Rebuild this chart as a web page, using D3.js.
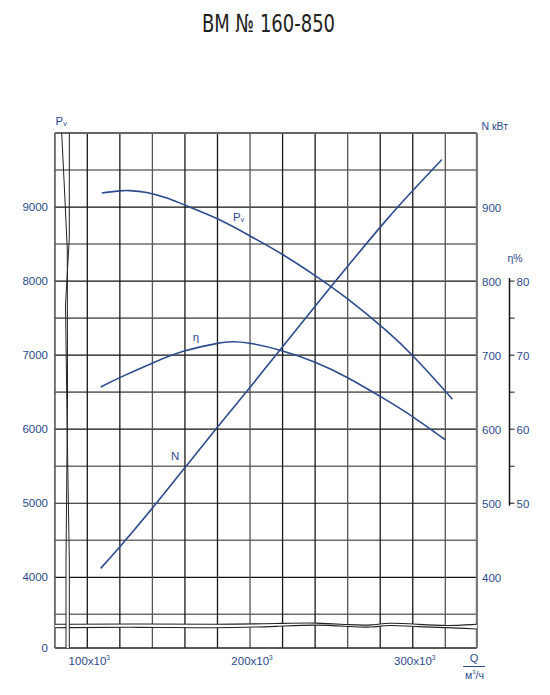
<!DOCTYPE html>
<html>
<head>
<meta charset="utf-8">
<script src="https://cdn.jsdelivr.net/npm/d3@7/dist/d3.min.js"></script>
<style>
  html, body { margin: 0; padding: 0; background: #fff; }
  svg { display: block; }
  text { font-family: "Liberation Sans", Arial, sans-serif; }
</style>
</head>
<body>
<svg id="chart" width="550" height="695"></svg>
<script>
// ---------- data ----------
const title = "ВМ № 160-850";

// Pv (pressure) curve
const pvQ   = [108.9, 120.1, 126, 136.5, 148.8, 159.6, 179.3, 199.8, 219.5, 240, 260, 283.6, 301.2, 319.8, 324.3];
const pvVal = [9190, 9219, 9222, 9196, 9122, 9030, 8848, 8613, 8366, 8075, 7759, 7334, 6964, 6518, 6405];

// efficiency curve, %
const etaQ   = [108.2, 120.3, 140.2, 159.6, 179.3, 189, 199.8, 219.5, 240, 260, 283.6, 301.2, 319.8];
const etaVal = [65.7, 67.0, 68.95, 70.55, 71.55, 71.8, 71.6, 70.6, 69.05, 66.95, 63.95, 61.5, 58.6];

// power curve, kW
const nQ   = [108.2, 120.3, 140.2, 159.6, 179.3, 199.8, 219.5, 240, 260, 283.6, 301.2, 317.8];
const nVal = [412, 442, 494, 547, 601, 656, 710, 766, 820, 882, 925, 964];

// ticks
const pvTicks   = [0, 4000, 5000, 6000, 7000, 8000, 9000];
const nTicks    = [400, 500, 600, 700, 800, 900];
const etaTicks  = [50, 60, 70, 80];
const etaMinor  = [55, 65, 75];
const xTickVals = [100, 200, 300];
const xTickLabels = ["100x10", "200x10", "300x10"];
const gridQ  = d3.range(100, 321, 20);
const gridPv = d3.range(3500, 9501, 500);

// ---------- scales ----------
const navy = "#2d4b8c";
const x = d3.scaleLinear().domain([100, 320]).range([87.3, 445.3]);
const qMin = 80.1, qMax = 339.4;
const y = d3.scaleLinear().domain([0, 3500, 10000]).range([648, 614.3, 133]);
const yN = d3.scaleLinear().domain([350, 1000]).range([y(3500), y(10000)]);
const yEta = d3.scaleLinear().domain([35, 100]).range([y(3500), y(10000)]);

const svg = d3.select("#chart");
const L = x(qMin), R = x(qMax), T = y(10000), B = y(0);

// ---------- grid ----------
const g = svg.append("g");
g.selectAll("line.hg").data(gridPv).join("line")
  .attr("x1", L).attr("x2", R)
  .attr("y1", d => y(d)).attr("y2", d => y(d))
  .attr("stroke", d => d % 1000 === 0 ? "#111" : "#6e6e6e")
  .attr("stroke-width", d => d % 1000 === 0 ? 1.2 : 1.6);
g.selectAll("line.vg").data(gridQ).join("line")
  .attr("x1", d => x(d)).attr("x2", d => x(d))
  .attr("y1", T).attr("y2", B)
  .attr("stroke", (d, i) => i % 3 === 2 ? "#555" : "#1a1a1a")
  .attr("stroke-width", 1.3);

// frame
g.append("line").attr("x1", L).attr("x2", R).attr("y1", T).attr("y2", T).attr("stroke", "#666").attr("stroke-width", 2);
g.append("line").attr("x1", L).attr("x2", R).attr("y1", B).attr("y2", B).attr("stroke", "#222").attr("stroke-width", 1.4);
g.append("line").attr("x1", L).attr("x2", L).attr("y1", T).attr("y2", B).attr("stroke", "#555").attr("stroke-width", 1.6);
g.append("line").attr("x1", R).attr("x2", R).attr("y1", T).attr("y2", B).attr("stroke", "#777").attr("stroke-width", 2.2);

// ---------- axis break marks (decoration) ----------
const brk = d3.line().curve(d3.curveBasis);
const hBreakUpper = [[L,624.3],[140,623.8],[217,624.5],[280,623.5],[317,622.5],[350,625],[373,625.5],[387,622.3],[420,624.5],[447,626],[R,624.3]];
const hBreakLower = [[L,627.7],[140,627],[217,628.3],[280,626.3],[317,624.5],[350,626.7],[373,627.7],[387,624.5],[420,627],[447,627.5],[R,629]];
g.append("path").attr("d", d3.area().curve(d3.curveBasis).x(d=>d[0]).y0(d=>d[1]).y1((d,i)=>hBreakLower[i][1])(hBreakUpper))
  .attr("fill", "#fff");
[hBreakUpper, hBreakLower].forEach(pts => {
  g.append("path").attr("d", brk(pts)).attr("fill", "none").attr("stroke", "#222").attr("stroke-width", 1.1);
});
const vBreakA = [[61.7,T],[64.5,190],[67.3,250],[67.5,400],[66,560],[66,B]];
const vBreakB = [[69.3,T],[69.3,238],[65.5,305],[67.5,450],[69.3,560],[69.3,B]];
g.append("rect").attr("x", 66).attr("y", 560).attr("width", 3.3).attr("height", B - 560).attr("fill", "#fff");
[vBreakA, vBreakB].forEach(pts => {
  g.append("path").attr("d", d3.line()(pts)).attr("fill", "none").attr("stroke", "#222").attr("stroke-width", 1);
});

// ---------- curves ----------
const line = d3.line().curve(d3.curveNatural);
const cg = svg.append("g").attr("fill", "none").attr("stroke", navy).attr("stroke-width", 1.6);
cg.append("path").attr("d", line(pvQ.map((q, i) => [x(q), y(pvVal[i])])));
cg.append("path").attr("d", line(etaQ.map((q, i) => [x(q), yEta(etaVal[i])])));
cg.append("path").attr("d", line(nQ.map((q, i) => [x(q), yN(nVal[i])])));

// curve labels
const lab = svg.append("g").attr("fill", navy).style("font-size", "11.5px");
const pvLab = lab.append("text").attr("x", x(189.5)).attr("y", y(8812));
pvLab.append("tspan").text("P");
pvLab.append("tspan").text("v").style("font-size", "7.5px").attr("dy", 1);
lab.append("text").attr("x", x(164.8)).attr("y", yEta(71.9)).text("η");
lab.append("text").attr("x", x(151.5)).attr("y", yN(558)).text("N");

// ---------- axes text ----------
const ax = svg.append("g").attr("fill", navy).style("font-size", "11.5px");
// left
ax.selectAll("text.pl").data(pvTicks).join("text")
  .attr("x", 48).attr("y", d => y(d)).attr("dy", "0.36em")
  .attr("text-anchor", "end").text(d => d);
const pvTitle = ax.append("text").attr("x", 55.5).attr("y", 125);
pvTitle.append("tspan").text("P");
pvTitle.append("tspan").text("v").style("font-size", "7.5px").attr("dy", 1);

// right N
ax.selectAll("text.nl").data(nTicks).join("text")
  .attr("x", 482).attr("y", d => yN(d)).attr("dy", "0.45em").text(d => d);
ax.append("text").attr("x", 481.5).attr("y", 129.5).style("font-size", "10.5px").text("N кВт");

// eta axis
const etaX = 509.5;
svg.append("line").attr("x1", etaX).attr("x2", etaX)
  .attr("y1", yEta(80) - 3).attr("y2", yEta(50) + 2.5)
  .attr("stroke", "#111").attr("stroke-width", 1.5);
svg.selectAll("line.et").data(etaTicks.concat(etaMinor)).join("line")
  .attr("x1", etaX).attr("x2", etaX + 5)
  .attr("y1", d => yEta(d)).attr("y2", d => yEta(d))
  .attr("stroke", "#111").attr("stroke-width", 1);
ax.selectAll("text.el").data(etaTicks).join("text")
  .attr("x", 516.5).attr("y", d => yEta(d)).attr("dy", "0.45em").text(d => d);
ax.append("text").attr("x", 507.5).attr("y", 261.5).style("font-size", "10.5px").text("η%");

// x tick labels
xTickVals.forEach((v, i) => {
  const t = ax.append("text").attr("x", x(v) + 2).attr("y", 665).attr("text-anchor", "middle");
  t.append("tspan").text(xTickLabels[i]);
  t.append("tspan").text("3").style("font-size", "6.5px").attr("dy", -5);
});
// Q unit
ax.append("text").attr("x", 474).attr("y", 662).attr("text-anchor", "middle").style("font-size", "11px").text("Q");
svg.append("line").attr("x1", 463).attr("x2", 485).attr("y1", 666.5).attr("y2", 666.5).attr("stroke", navy).attr("stroke-width", 1);
const unit = ax.append("text").attr("x", 474.5).attr("y", 678.5).attr("text-anchor", "middle").style("font-size", "10.5px");
unit.append("tspan").text("м");
unit.append("tspan").text("3").style("font-size", "6px").attr("dy", -5);
unit.append("tspan").text("/ч").attr("dy", 5);

// ---------- title ----------
svg.append("text").attr("x", 268.5).attr("y", 31.5).attr("text-anchor", "middle")
  .attr("fill", "#222")
  .style("font-family", "'Liberation Sans Narrow','DejaVu Sans Condensed','Liberation Sans',sans-serif")
  .style("font-size", "25px")
  .attr("textLength", 133).attr("lengthAdjust", "spacingAndGlyphs")
  .text(title);
</script>
</body>
</html>
